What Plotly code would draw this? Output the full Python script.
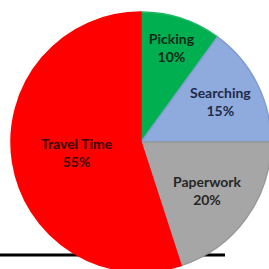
import plotly.graph_objects as go

labels = ["Picking", "Searching", "Paperwork", "Travel Time"]
values = [10, 15, 20, 55]
colors = ["#00B050", "#8FAADC", "#A6A6A6", "#FF0000"]
edge_colors = ["#1FB862", "#7F9DD2", "#989898", "#FF0000"]
text_colors = ["#0E2A18", "#1E2B4A", "#262626", "#3A0606"]

W, H = 272, 273
fig = go.Figure(go.Pie(
    labels=labels, values=values, sort=False, direction="clockwise", rotation=0,
    marker=dict(colors=colors, line=dict(color=edge_colors, width=1.5)),
    texttemplate="%{label}<br>%{percent:.0%}",
    textposition="inside", insidetextorientation="horizontal",
    textfont=dict(family="Lato", size=14, color=text_colors, weight="bold"),
    domain=dict(x=[11 / W, 271 / W], y=[1 - 272 / H, 1 - 12 / H]),
    showlegend=False, hoverinfo="label+percent",
))
fig.add_shape(type="line", xref="paper", yref="paper",
              x0=0, x1=225 / W, y0=1 - 255 / H, y1=1 - 255 / H,
              line=dict(color="black", width=3), layer="below")
fig.update_layout(width=W, height=H, margin=dict(l=0, r=0, t=0, b=0),
                  paper_bgcolor="white", plot_bgcolor="white", uniformtext=dict(minsize=14, mode=False))
fig.write_html("out.html", config={"displayModeBar": False},
               post_script="document.body.style.margin='0';document.body.style.overflow='hidden';document.documentElement.style.overflow='hidden';")
